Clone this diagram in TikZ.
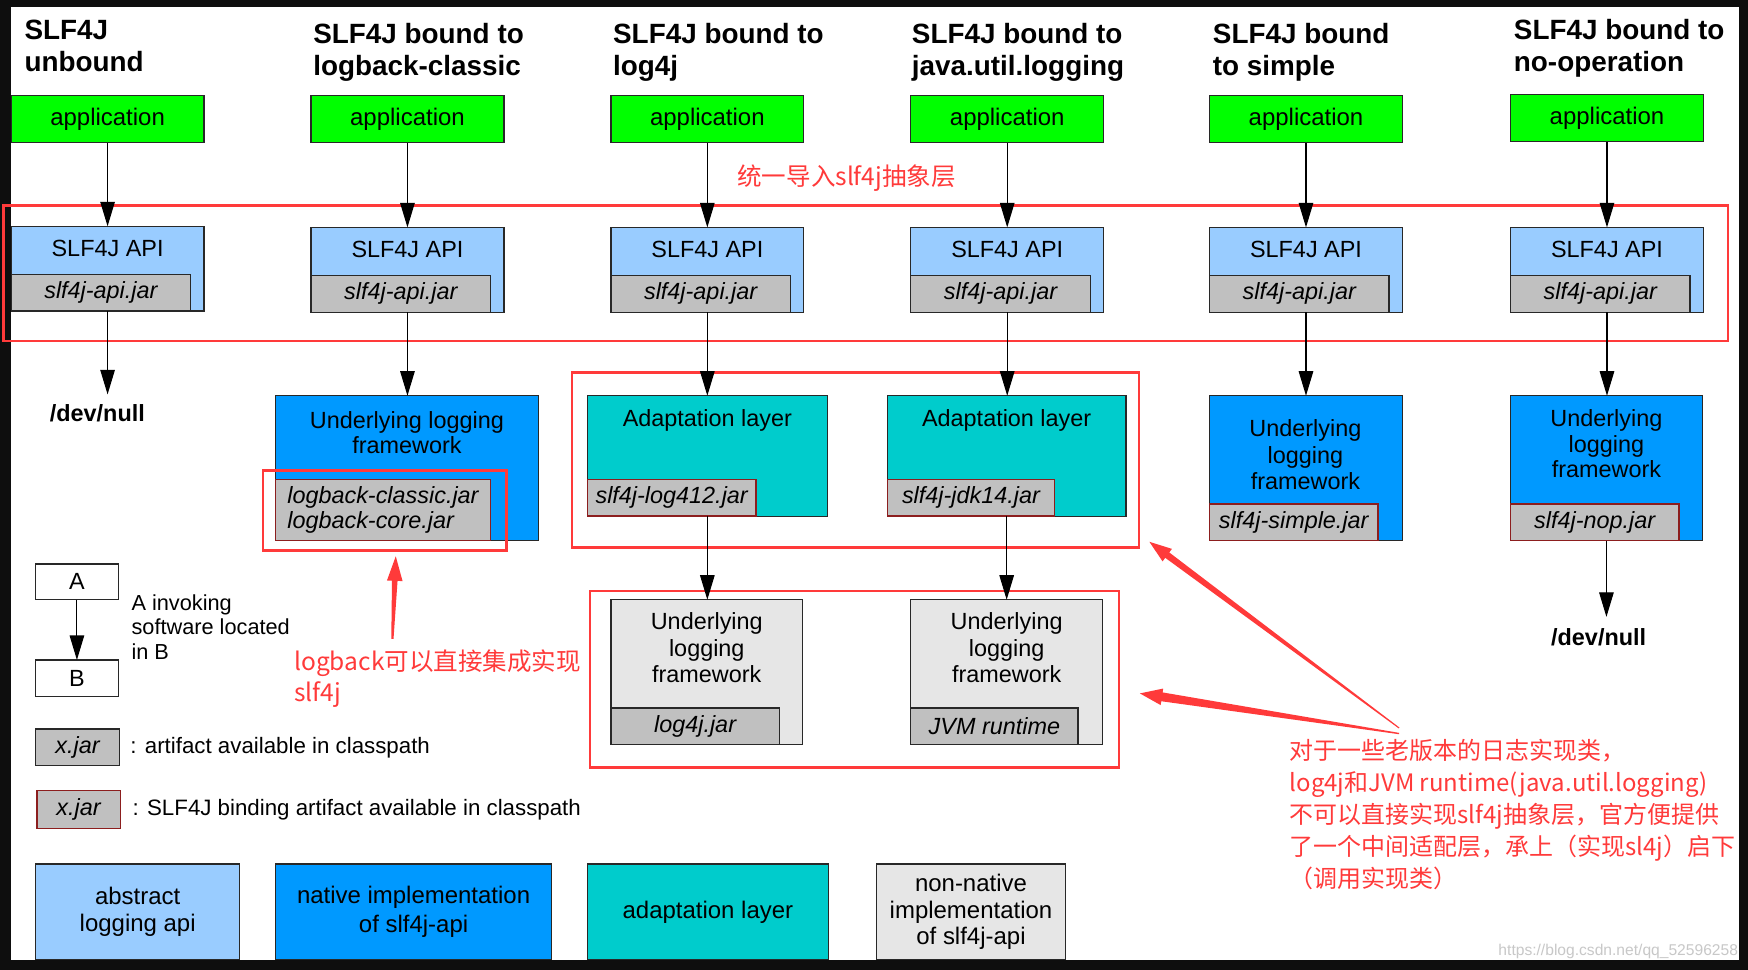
\documentclass[tikz,border=0pt]{standalone}
\usepackage{fontspec}
\setmainfont{Liberation Sans}
\newfontfamily\cjk{Noto Sans CJK SC}
\usetikzlibrary{arrows.meta,calc}
\definecolor{appgreen}{RGB}{0,255,0}
\definecolor{apiblue}{RGB}{153,204,255}
\definecolor{natblue}{RGB}{0,153,255}
\definecolor{adcyan}{RGB}{0,204,204}
\definecolor{nngray}{RGB}{230,230,230}
\definecolor{jargray}{RGB}{192,192,192}
\definecolor{annred}{RGB}{255,58,58}
\definecolor{bindred}{RGB}{140,30,30}
\definecolor{boxline}{RGB}{40,40,40}
\definecolor{wmgray}{RGB}{200,200,200}
\definecolor{frameblack}{RGB}{14,14,14}
\newcommand\fsz[2]{\fontsize{#1}{#2}\selectfont}
% tapered annotation arrow: tail, tip, head length, half head width, half shaft at head, half shaft at tail, prefix
\newcommand\taper[7]{%
  \coordinate (#7h) at ($(#2)!#3!(#1)$);
  \fill[annred] ($(#1)!#6!90:(#2)$) -- ($(#7h)!#5!90:(#2)$) -- ($(#7h)!#4!90:(#2)$) -- (#2)
    -- ($(#7h)!#4!-90:(#2)$) -- ($(#7h)!#5!-90:(#2)$) -- ($(#1)!#6!-90:(#2)$) -- cycle;}
\begin{document}
\begin{tikzpicture}[x=1pt,y=-1pt,
  base/.style={inner sep=0pt,outer sep=0pt},
  sz/.style 2 args={minimum width=#1pt,minimum height=#2pt},
  box/.style={base,draw=boxline,line width=1.1pt,anchor=north west,font=\fsz{21}{24},align=center},
  app/.style={box,fill=appgreen,sz={173}{42},font=\fsz{21.5}{24}},
  apibox/.style={box,fill=apiblue,sz={173}{76}},
  jar/.style={box,anchor=south west,fill=jargray,font=\fsz{21}{23}\itshape},
  bjar/.style={jar,draw=bindred,line width=1.4pt},
  lbl/.style={base,font=\fsz{21}{23.5},align=center},
  title/.style={base,font=\fsz{25}{28.5}\bfseries,align=left,anchor=base west},
  devnull/.style={base,font=\fsz{21}{24}\bfseries,anchor=base},
  conn/.style={draw=black,line width=1pt,-{Triangle[length=22pt,width=13pt]}},
  redbox/.style={draw=annred,line width=2.2pt},
  ann/.style={base,text=annred,align=left,anchor=west,font=\cjk\fsz{22}{28}},
  legtxt/.style={base,font=\fsz{20}{23},anchor=west,align=left}
]
\useasboundingbox (0,0) rectangle (1568,870);
\fill[frameblack] (0,0) rectangle (1568,870);
\fill[white] (10,6.5) rectangle (1560,861);

% titles (anchored at the baseline of their last line)
\node[title] (t1) at (22,63.8) {SLF4J\\unbound};
\node[title] (t2) at (281,67.4) {SLF4J bound to\\logback-classic};
\node[title] (t3) at (550,67.4) {SLF4J bound to\\log4j};
\node[title] (t4) at (818,67.4) {SLF4J bound to\\java.util.logging};
\node[title] (t5) at (1088,67.4) {SLF4J bound\\to simple};
\node[title] (t6) at (1358,63.8) {SLF4J bound to\\no-operation};

% applications
\node[app] (app1) at (10,86) {application};
\node[app] (app2) at (279,86) {application};
\node[app] (app3) at (548,86) {application};
\node[app] (app4) at (817,86) {application};
\node[app] (app5) at (1085,86) {application};
\node[app] (app6) at (1355,85) {application};

% SLF4J API
\foreach \i/\x/\y in {1/10/203,2/279/204,3/548/204,4/817/204,5/1085/204,6/1355/204}{
  \node[apibox] (api\i) at (\x,\y) {};
  \node[lbl] (api\i t) at ($(api\i.north)+(0,20)$) {SLF4J API};
  \node[jar,sz={161}{33}] (api\i j) at (api\i.south west) {slf4j-api.jar};
}

% col1 /dev/null
\node[devnull] (dn1) at (87.3,378) {/dev/null};

% col2 native logback
\node[box,fill=natblue,sz={236}{130}] (nat2) at (247,355) {};
\node[lbl,font=\fsz{21}{22.5}] (nat2t) at (365,388) {Underlying logging\\framework};
\node[bjar,sz={193}{55},align=left] (nat2j) at (nat2.south west) {logback-classic.jar\\logback-core.jar};

% col3/col4 adaptation
\node[box,fill=adcyan,sz={215}{108}] (ad3) at (527,355) {};
\node[lbl] (ad3t) at (634.5,377) {Adaptation layer};
\node[bjar,sz={151}{33}] (ad3j) at (ad3.south west) {slf4j-log412.jar};
\node[box,fill=adcyan,sz={214}{108}] (ad4) at (796,355) {};
\node[lbl] (ad4t) at (903,377) {Adaptation layer};
\node[bjar,sz={150}{33}] (ad4j) at (ad4.south west) {slf4j-jdk14.jar};

% col3/col4 non-native
\node[box,fill=nngray,sz={172}{130}] (nn3) at (548,538) {};
\node[lbl] (nn3t) at (634,581) {Underlying\\logging\\framework};
\node[jar,sz={151}{33}] (nn3j) at (nn3.south west) {log4j.jar};
\node[box,fill=nngray,sz={172}{130}] (nn4) at (817,538) {};
\node[lbl] (nn4t) at (903,581) {Underlying\\logging\\framework};
\node[jar,sz={150}{33}] (nn4j) at (nn4.south west) {JVM runtime};

% col5 simple
\node[box,fill=natblue,sz={173}{130}] (nat5) at (1085,355) {};
\node[lbl,font=\fsz{21}{24}] (nat5t) at (1171,408) {Underlying\\logging\\framework};
\node[bjar,sz={151}{33}] (nat5j) at (nat5.south west) {slf4j-simple.jar};

% col6 nop
\node[box,fill=natblue,sz={172}{130}] (nat6) at (1355,355) {};
\node[lbl,font=\fsz{21}{23}] (nat6t) at (1441,398) {Underlying\\logging\\framework};
\node[bjar,sz={151}{33}] (nat6j) at (nat6.south west) {slf4j-nop.jar};
\node[devnull] (dn6) at (1434,578.6) {/dev/null};

% red frames
\draw[redbox] (3,184.5) rectangle (1550,306);
\draw[redbox] (236,422) rectangle (454.5,494);
\draw[redbox] (513,334) rectangle (1021.6,491);
\draw[redbox] (529.4,530) rectangle (1003.8,688.6);

% connectors
\foreach \i in {1,...,6}{\draw[conn] (app\i.south) -- (app\i.south |- api\i.north);}
\draw[conn] (api1.south) -- ($(api1.south |- dn1.north)+(0,-9)$);
\draw[conn] (api2.south) -- (api2.south |- nat2.north);
\draw[conn] (api3.south) -- (api3.south |- ad3.north);
\draw[conn] (api4.south) -- (api4.south |- ad4.north);
\draw[conn] (api5.south) -- (api5.south |- nat5.north);
\draw[conn] (api6.south) -- (api6.south |- nat6.north);
\draw[conn] (ad3.south) -- (ad3.south |- nn3.north);
\draw[conn] (ad4.south) -- (ad4.south |- nn4.north);
\draw[conn] (nat6.south) -- ($(nat6.south |- dn6.north)+(0,-10)$);

% legend
\node[box,sz={75}{32}] (la) at (31.5,506) {A};
\node[box,sz={75}{33}] (lb) at (31.5,592) {B};
\draw[conn] (la) -- (lb);
\node[legtxt,font=\fsz{19.5}{22}] (lab) at (118,562.5) {A invoking\\software located\\in B};
\node[jar,anchor=north west,sz={75}{33}] (lx1) at (32,654) {x.jar};
\node[legtxt] (lx1t) at (117,671) {: artifact available in classpath};
\node[bjar,anchor=north west,sz={75}{34}] (lx2) at (33,709) {x.jar};
\node[legtxt] (lx2t) at (119,726.5) {: SLF4J binding artifact available in classpath};

\node[box,fill=apiblue,sz={183}{86},font=\fsz{21.5}{24}] (k1) at (32,775) {abstract\\logging api};
\node[box,fill=natblue,sz={248}{86},font=\fsz{21.5}{26}] (k2) at (247,775) {native implementation\\of slf4j-api};
\node[box,fill=adcyan,sz={216}{86},font=\fsz{21.5}{24}] (k3) at (527,775) {adaptation layer};
\node[box,fill=nngray,sz={170}{86},font=\fsz{21.5}{24}] (k4) at (786,775) {non-native\\implementation\\of slf4j-api};
\fill[frameblack] (0,861) rectangle (1568,870);

% annotations
\node[ann] (n1) at (661.5,160) {统一导入slf4j抽象层};
\node[ann] (n2) at (264,609) {logback可以直接集成实现\\slf4j};
\node[ann,font=\cjk\fsz{21.5}{28.8}] (n3) at (1157,730.5) {对于一些老版本的日志实现类，\\log4j和JVM runtime(java.util.logging)\\不可以直接实现slf4j抽象层，官方便提供\\了一个中间适配层，承上（实现sl4j）启下\\（调用实现类）};

\coordinate (tailA) at (1255,653);
\coordinate (tipA) at (1031,486);
\taper{tailA}{tipA}{20pt}{7pt}{3pt}{0.5pt}{arA}
\coordinate (tailB) at (1255,658);
\coordinate (tipB) at (1022.5,622);
\taper{tailB}{tipB}{20pt}{7.5pt}{4pt}{0.6pt}{arB}
\coordinate (tailC) at (352,573);
\coordinate (tipC) at (355,499);
\taper{tailC}{tipC}{22pt}{7pt}{2.5pt}{1pt}{arC}

\node[base,text=wmgray,font=\fsz{14}{16},anchor=east] (wm) at (1559,853.5) {https://blog.csdn.net/qq\_52596258};
\end{tikzpicture}
\end{document}
